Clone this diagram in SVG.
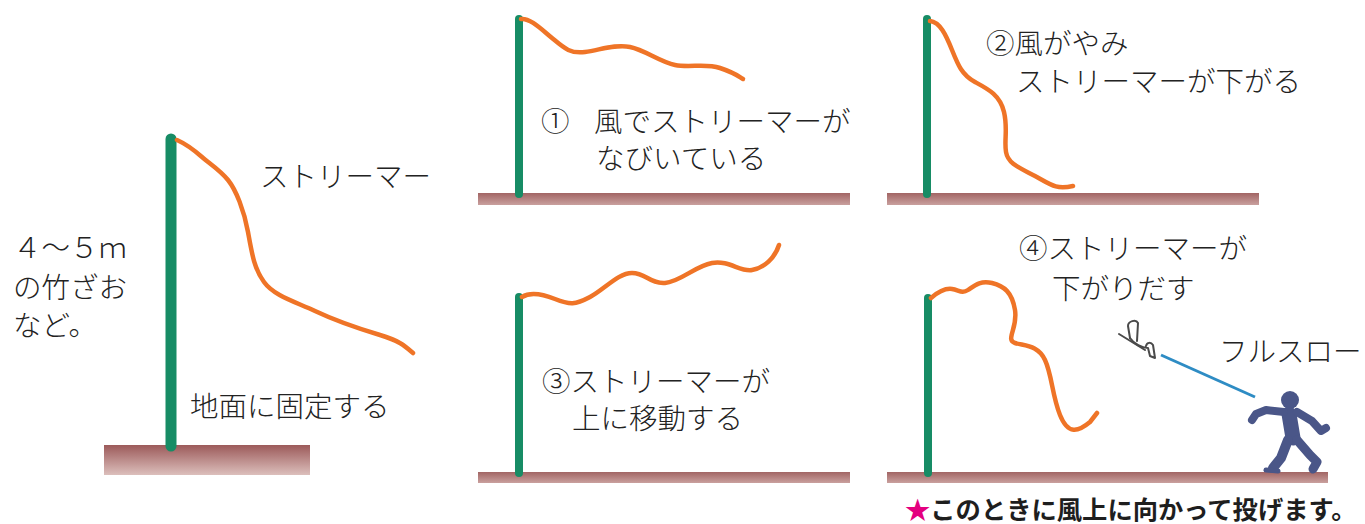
<svg xmlns="http://www.w3.org/2000/svg" width="1365" height="524" viewBox="0 0 1365 524">
  <defs>
    <linearGradient id="soil" x1="0" y1="0" x2="0" y2="1">
      <stop offset="0" stop-color="#9c5a5a"/>
      <stop offset="1" stop-color="#dcbfbc"/>
    </linearGradient>
    <linearGradient id="soilThin" x1="0" y1="0" x2="0" y2="1">
      <stop offset="0" stop-color="#a26564"/>
      <stop offset="1" stop-color="#c9a09e"/>
    </linearGradient>
    <style>
      .pole { stroke: #178c65; stroke-linecap: round; fill: none; }
      .streamer { stroke: #ef7427; stroke-width: 4.5; stroke-linecap: round; stroke-linejoin: round; fill: none; }
      .label { font-family: "Noto Sans CJK JP", "Noto Sans", sans-serif; font-weight: 300; font-size: 28.5px; fill: #222; }
      .note { font-family: "Noto Sans CJK JP", "Noto Sans", sans-serif; font-weight: 700; font-size: 25.3px; fill: #1e1e1e; }
      .glider { stroke: #4a4a4a; stroke-width: 2; fill: none; stroke-linejoin: round; stroke-linecap: round; }
      .thrower { stroke: #4a5688; stroke-linecap: round; stroke-linejoin: round; fill: none; }
    </style>
  </defs>

  <rect width="1365" height="524" fill="#fff"/>

  <!-- overview: pole fixed in the ground with its streamer -->
  <g id="overview">
    <rect x="104" y="445" width="206" height="30" fill="url(#soil)"/>
    <line class="pole" x1="171" y1="139" x2="171" y2="446" stroke-width="11"/>
    <path class="streamer" stroke-width="8" d="M177,140 C186,144 194,150 202,157 S220,170 228,180 S244,210 248,232 S254,268 264,282 S296,302 315,311 S360,329 380,335 S405,346 413,353"/>
    <text class="label" x="260" y="187">ストリーマー</text>
    <text class="label" x="13" y="258">４～５ｍ</text>
    <text class="label" x="13" y="298">の竹ざお</text>
    <text class="label" x="13" y="336">など。</text>
    <text class="label" x="190" y="417">地面に固定する</text>
  </g>

  <!-- step 1: streamer flying in the wind -->
  <g id="step1">
    <rect x="478" y="193" width="372" height="12" fill="url(#soilThin)"/>
    <line class="pole" x1="519" y1="19" x2="519" y2="194" stroke-width="8"/>
    <path class="streamer" d="M521,19 C530,18 540,28 552,38 S570,54 585,52 S615,44 630,47 S660,62 675,65 S705,63 720,68 S738,76 743,79"/>
    <text class="label" y="132"><tspan x="541">①</tspan><tspan x="594">風でストリーマーが</tspan></text>
    <text class="label" x="596" y="169">なびいている</text>
  </g>

  <!-- step 2: wind drops, streamer falls -->
  <g id="step2">
    <rect x="887" y="193" width="372" height="12" fill="url(#soilThin)"/>
    <line class="pole" x1="927" y1="19" x2="927" y2="194" stroke-width="8"/>
    <path class="streamer" d="M930,21 C940,22 946,35 952,50 S962,75 975,82 S1000,95 1004,112 S1004,140 1006,152 S1020,168 1035,176 S1055,190 1073,186"/>
    <text class="label" x="986" y="54">②風がやみ</text>
    <text class="label" x="1016" y="92">ストリーマーが下がる</text>
  </g>

  <!-- step 3: streamer rises -->
  <g id="step3">
    <rect x="478" y="472" width="372" height="11" fill="url(#soilThin)"/>
    <line class="pole" x1="519" y1="297" x2="519" y2="473" stroke-width="8"/>
    <path class="streamer" d="M522,297 C530,292 540,293 555,299 S575,305 590,297 S618,273 632,273 S650,284 665,283 S695,266 712,263 S740,272 752,270 S775,258 779,245"/>
    <text class="label" x="542" y="392">③ストリーマーが</text>
    <text class="label" x="572" y="429">上に移動する</text>
  </g>

  <!-- step 4: streamer starts to drop, launch -->
  <g id="step4">
    <rect x="887" y="472" width="441" height="11" fill="url(#soilThin)"/>
    <line class="pole" x1="928" y1="298" x2="928" y2="473" stroke-width="8"/>
    <path class="streamer" d="M931,298 C938,292 945,288 952,289 S962,294 968,290 S980,280 992,283 S1012,292 1015,310 S1005,340 1015,343 S1038,345 1045,360 S1052,395 1060,415 S1078,432 1090,422 L1097,413"/>
    <text class="label" x="1019" y="259">④ストリーマーが</text>
    <text class="label" x="1052" y="299">下がりだす</text>
    <text class="label" x="1219" y="362">フルスロー</text>
  </g>

  <!-- glider sketch -->
  <g id="glider">
    <path class="glider" d="M1130,338 L1128,326 C1128,321 1136,319 1138,323 L1137,341"/>
    <path class="glider" d="M1130,338 C1134,344 1142,348 1148,348 L1150,356 L1155,358 L1153,345 C1151,342 1147,342 1146,346"/>
    <line class="glider" x1="1119" y1="334" x2="1145" y2="350" stroke-width="3"/>
  </g>

  <!-- thrower figure -->
  <g id="thrower">
    <circle cx="1290" cy="400" r="9" fill="#4a5688"/>
    <path class="thrower" stroke-width="15" d="M1289,414 L1293,438"/>
    <path class="thrower" stroke-width="8" d="M1284,412 L1266,410 L1256,414 L1252,420"/>
    <path class="thrower" stroke-width="8" d="M1297,412 L1312,421 L1321,431 L1326,428"/>
    <path class="thrower" stroke-width="10" d="M1288,440 L1281,458 L1273,468"/>
    <path class="thrower" stroke-width="9" d="M1297,440 L1310,455 L1317,462 L1313,469"/>
    <path class="thrower" stroke-width="5" d="M1266,470 L1278,471"/>
  </g>

  <!-- launch line -->
  <g id="connectors">
    <line x1="1161" y1="355" x2="1255" y2="397" stroke="#2e8cc4" stroke-width="3"/>
  </g>

  <!-- closing note -->
  <g id="note">
    <text class="note" x="905" y="519"><tspan fill="#e4007f">★</tspan>このときに風上に向かって投げます。</text>
  </g>
</svg>
